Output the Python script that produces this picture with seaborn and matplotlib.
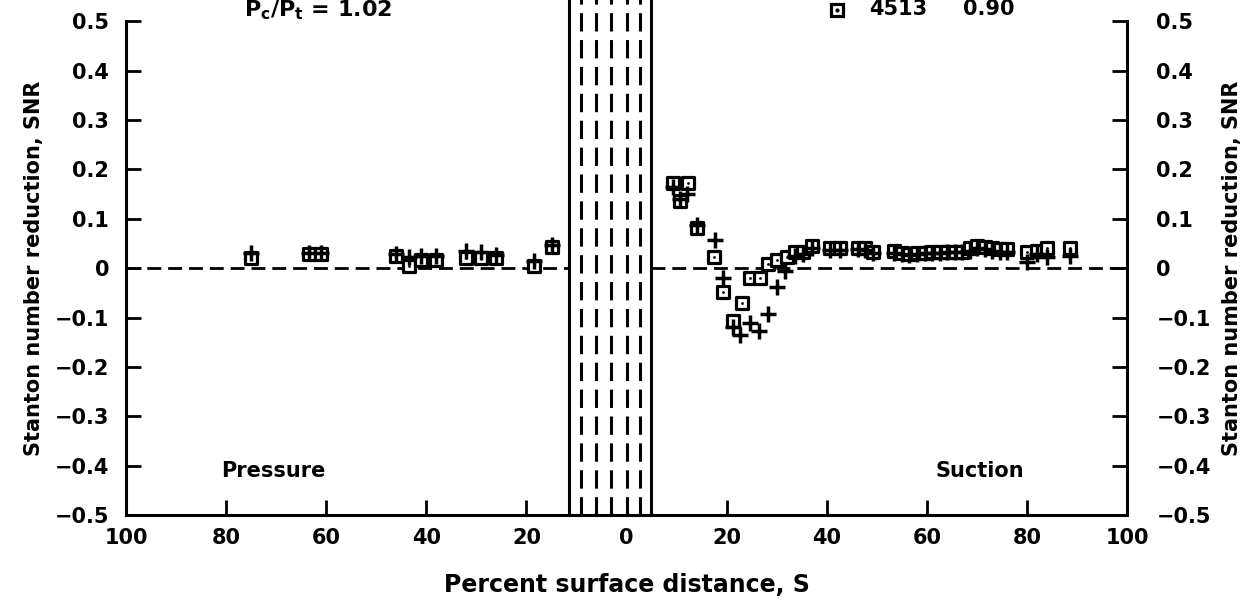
import numpy as np
import pandas as pd
import matplotlib
matplotlib.use("Agg")
import matplotlib.pyplot as plt
import seaborn as sns
from matplotlib.transforms import ScaledTranslation

# Percent surface distance, signed: pressure side negative, suction side positive
pressure_s = [-75, -63.5, -61, -46, -43.5, -41, -38, -32, -29, -26, -18.5, -15]
pressure_sq = [0.020, 0.028, 0.028, 0.025, 0.004, 0.017, 0.017, 0.020, 0.020, 0.020, 0.004, 0.043]
pressure_plus = [0.030, 0.030, 0.030, 0.028, 0.022, 0.025, 0.024, 0.035, 0.033, 0.027, 0.015, 0.047]

suction_s = [9.3, 10.6, 12.3, 14.0, 17.4, 19.3, 21.3, 23.0, 24.6, 26.6, 28.3, 30.0,
             32.0, 33.6, 35.3, 37.0, 40.6, 42.6, 46.2, 47.6, 49.3, 53.5, 55.0, 56.5,
             58.0, 59.5, 61.0, 62.5, 64.0, 65.5, 67.0, 68.5, 70.0, 71.5, 73.0, 74.5,
             76.0, 80.0, 82.0, 84.0, 88.6]
suction_sq = [0.172, 0.135, 0.172, 0.082, 0.022, -0.048, -0.108, -0.071, -0.020, -0.020, 0.008, 0.016,
              0.023, 0.033, 0.032, 0.045, 0.040, 0.040, 0.040, 0.040, 0.033, 0.035, 0.030, 0.028,
              0.030, 0.030, 0.033, 0.033, 0.033, 0.033, 0.033, 0.040, 0.045, 0.043, 0.040, 0.038,
              0.038, 0.033, 0.035, 0.040, 0.040]
plus_s = [9.3, 10.6, 12.0, 14.0, 17.6, 19.3, 21.3, 22.7, 24.6, 26.5, 28.3, 30.0,
          31.7, 33.6, 35.3, 37.0, 40.6, 42.6, 46.2, 47.6, 49.3, 53.5, 55.0, 56.5,
          58.0, 59.5, 61.0, 62.5, 64.0, 65.5, 67.0, 68.5, 70.0, 71.5, 73.0, 74.5,
          76.0, 80.0, 82.0, 84.0, 88.6]
suction_plus = [0.165, 0.140, 0.150, 0.088, 0.058, -0.020, -0.120, -0.135, -0.112, -0.128, -0.092, -0.038,
                -0.005, 0.025, 0.028, 0.040, 0.036, 0.036, 0.038, 0.036, 0.030, 0.030, 0.028, 0.027,
                0.028, 0.030, 0.030, 0.030, 0.032, 0.032, 0.032, 0.035, 0.040, 0.038, 0.035, 0.033,
                0.033, 0.012, 0.028, 0.022, 0.025]

# film-cooling hole rows near the stagnation point
solid_rows = [-11.5, 4.9]
dashed_rows = [-9.1, -6.1, -3.1, 0.0, 2.6]

xticks = [-100, -80, -60, -40, -20, 0, 20, 40, 60, 80, 100]
xtick_labels = ["100", "80", "60", "40", "20", "0", "20", "40", "60", "80", "100"]
yticks = [0.5, 0.4, 0.3, 0.2, 0.1, 0.0, -0.1, -0.2, -0.3, -0.4, -0.5]
ytick_labels = ["0.5", "0.4", "0.3", "0.2", "0.1", "0", "\u22120.1", "\u22120.2", "\u22120.3", "\u22120.4", "\u22120.5"]

sq = pd.DataFrame({"S": pressure_s + suction_s, "SNR": pressure_sq + suction_sq})
pl = pd.DataFrame({"S": pressure_s + plus_s, "SNR": pressure_plus + suction_plus})

sns.set_style("ticks")
plt.rcParams["font.family"] = ["DejaVu Sans"]
plt.rcParams["font.weight"] = "bold"
plt.rcParams["axes.labelweight"] = "bold"
for key in ["text.color", "axes.labelcolor", "xtick.color", "ytick.color", "axes.edgecolor"]:
    plt.rcParams[key] = "black"

fig = plt.figure(figsize=(12.47, 6.06), dpi=100)
ax = fig.add_axes([0.101, 0.150, 0.803, 0.815])

# zero line, broken across the hole region
ax.plot([-100, solid_rows[0]], [0, 0], color="black", lw=2, ls=(0, (5, 2.5)), zorder=2)
ax.plot([solid_rows[1], 100], [0, 0], color="black", lw=2, ls=(0, (5, 2.5)), zorder=2)

for x in solid_rows:
    ax.plot([x, x], [-0.5, 0.56], color="black", lw=2.2, clip_on=False, zorder=2)
for x in dashed_rows:
    ax.plot([x, x], [-0.5, 0.56], color="black", lw=2.2, ls=(0, (6, 2.8)), clip_on=False, zorder=2)

sns.scatterplot(data=sq, x="S", y="SNR", ax=ax, marker="s", s=70, facecolor="white",
                edgecolor="black", linewidth=2.3, zorder=3, legend=False)
sns.scatterplot(data=sq, x="S", y="SNR", ax=ax, marker="o", s=4, color="black",
                linewidth=0, zorder=4, legend=False)
sns.scatterplot(data=pl, x="S", y="SNR", ax=ax, marker="+", s=120, color="black",
                linewidth=2.5, zorder=5, legend=False)

ax.set_xlim(-100, 100)
ax.set_ylim(-0.5, 0.5)
ax.set_xticks(xticks)
ax.set_xticklabels(xtick_labels)
ax.set_yticks(yticks)
ax.set_yticklabels(ytick_labels)
ax.tick_params(axis="both", direction="in", length=11, width=2, labelsize=15, colors="black")
ax.tick_params(axis="y", right=True, labelright=True, pad=12)
ax.tick_params(axis="x", pad=9)
for side in ["left", "right", "bottom"]:
    ax.spines[side].set_linewidth(2.2)
ax.spines["top"].set_visible(False)

# right-hand tick labels sit a little further from the spine
shift = ScaledTranslation(9 / 72, 0, fig.dpi_scale_trans)
for tick in ax.yaxis.get_major_ticks():
    tick.label2.set_transform(tick.label2.get_transform() + shift)

ax.set_xlabel("Percent surface distance, S", fontsize=17, labelpad=18)
ax.set_ylabel("Stanton number reduction, SNR", fontsize=15, labelpad=8)
ax2 = ax.secondary_yaxis("right")
ax2.set_yticks([])
ax2.spines["right"].set_visible(False)
ax2.set_ylabel("Stanton number reduction, SNR", fontsize=15, labelpad=68)

ax.text(-70.5, -0.41, "Pressure", fontsize=15, ha="center", va="center")
ax.text(70.5, -0.41, "Suction", fontsize=15, ha="center", va="center")

# header lines (partly cut off at the top of the page)
fig.text(0.255, 0.983, "P$_\\mathregular{c}$/P$_\\mathregular{t}$ = 1.02", fontsize=16,
         ha="center", va="center")
fig.text(0.720, 0.985, "4513", fontsize=15, ha="center", va="center")
fig.text(0.793, 0.985, "0.90", fontsize=15, ha="center", va="center")
fig.lines.append(plt.Line2D([0.671], [0.983], transform=fig.transFigure, marker="s",
                            markersize=8, markerfacecolor="white", markeredgecolor="black",
                            markeredgewidth=2.3))
fig.lines.append(plt.Line2D([0.671], [0.983], transform=fig.transFigure, marker="o",
                            markersize=2, color="black"))

fig.savefig("out.png", dpi=100)
